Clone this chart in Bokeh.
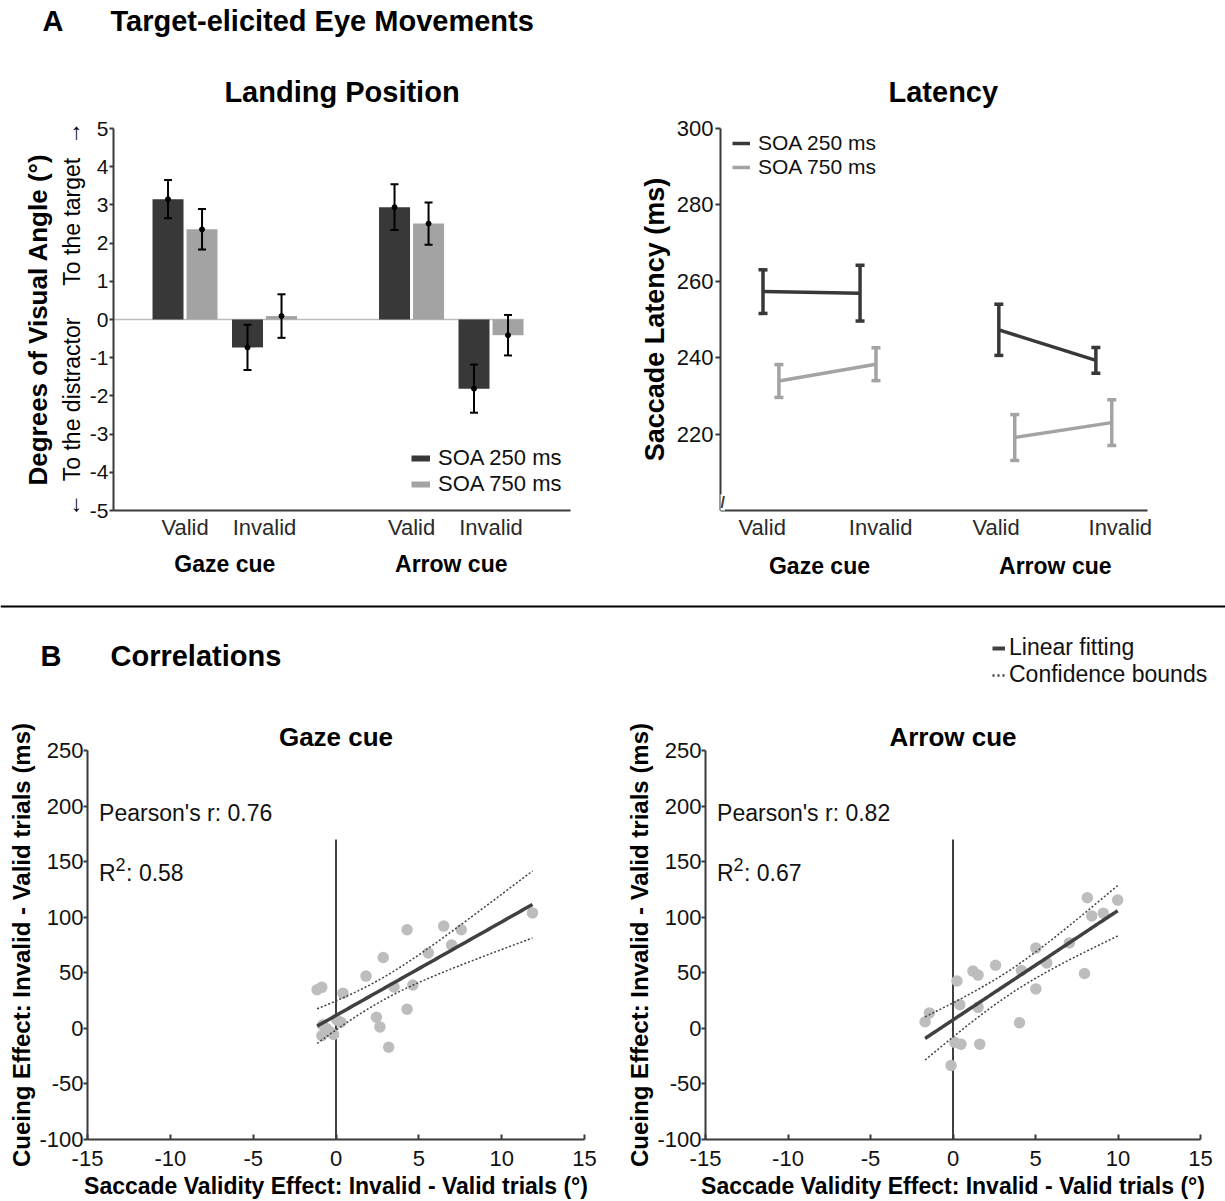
import numpy as np
from bokeh.plotting import figure
from bokeh.models import (Range1d, FixedTicker, LinearAxis, Legend, LegendItem, Whisker,
                          TeeHead, ColumnDataSource, Label, Span)
from bokeh.layouts import column, row
from bokeh.embed import file_html
from bokeh.resources import INLINE

# ---------------- data ----------------
cues = ["Gaze cue", "Arrow cue"]
validity = ["Valid", "Invalid", "Valid", "Invalid"]
soa_labels = ["SOA 250 ms", "SOA 750 ms"]

# Landing position (deg), order: gaze valid, gaze invalid, arrow valid, arrow invalid
land_250 = [3.15, -0.73, 2.94, -1.81]
land_250_err = [0.50, 0.59, 0.60, 0.63]
land_750 = [2.36, 0.09, 2.51, -0.41]
land_750_err = [0.53, 0.57, 0.55, 0.53]

# Saccade latency (ms)
lat_250 = [257.3, 256.9, 247.3, 239.3]
lat_250_err = [5.7, 7.3, 6.7, 3.4]
lat_750 = [233.9, 238.3, 219.1, 223.0]
lat_750_err = [4.3, 4.3, 6.0, 6.0]

# Correlations
gaze_x = [-1.14, -0.86, 0.42, 1.81, 2.85, 3.50, 4.29, 4.64, 5.57, 6.50, 6.98, 7.56, 11.86,
          2.44, 2.65, 3.18, 4.29, -0.80, -0.60, -0.85, -0.35, -0.15, 0.05, 0.30]
gaze_y = [34.8, 36.9, 31.5, 47.0, 63.7, 37.2, 88.7, 39.0, 67.9, 92.0, 75.0, 88.7, 103.9,
          10.0, 1.3, -17.0, 17.2, 3.0, 0.0, -6.5, -3.0, -5.5, 7.5, 5.5]
arrow_x = [-1.69, -1.43, 0.24, 0.41, 1.21, 1.52, 1.52, 2.58, 4.15, 4.03, 5.02, 5.02, 5.68,
           7.05, 7.97, 8.14, 8.41, 9.11, 9.98, 0.12, 0.48, 1.62, -0.12]
arrow_y = [5.9, 13.9, 42.6, 21.3, 51.5, 47.9, 18.9, 56.8, 52.1, 5.0, 72.2, 35.5, 58.9,
           76.9, 49.4, 117.5, 101.2, 103.6, 115.4, -12.7, -14.2, -14.2, -33.4]
gaze_stats = ["Pearson's r: 0.76", ": 0.58"]
arrow_stats = ["Pearson's r: 0.82", ": 0.67"]
T_CRIT = {21: 2.080, 22: 2.074}

# ---------------- style ----------------
FONT = "Liberation Sans"
DARK = "#383838"
LIGHT = "#a3a3a3"
AXIS = "#3a3a3a"
DOT = "#bdbdbd"
NBSP = "\u00a0"


def base_fig(**kw):
    p = figure(output_backend="svg", toolbar_location=None, **kw)
    p.grid.visible = False
    p.outline_line_color = None
    return p


def plain_labels(ticks):
    return {t: str(t) for t in ticks}


def style_axis(ax, size="22px"):
    ax.axis_line_color = AXIS
    ax.axis_line_width = 2
    ax.major_tick_line_color = AXIS
    ax.major_tick_line_width = 2
    ax.minor_tick_line_color = None
    ax.major_label_text_font = FONT
    ax.major_label_text_font_size = size
    ax.major_label_text_color = "#111111"
    ax.axis_label_text_font = FONT
    ax.axis_label_text_color = "#000000"


def title_style(p, size, standoff, align="center", offset=0):
    p.title.align = align
    p.title.text_font = FONT
    p.title.text_font_size = size
    p.title.text_font_style = "bold"
    p.title.text_color = "#000000"
    p.title.standoff = standoff
    p.title.offset = offset


def group_axis(ticks, labels, standoff):
    ax = LinearAxis(ticker=FixedTicker(ticks=ticks),
                    major_label_overrides={t: l for t, l in zip(ticks, labels)})
    ax.axis_line_color = None
    ax.major_tick_line_color = None
    ax.major_tick_out = 0
    ax.major_tick_in = 0
    ax.minor_tick_line_color = None
    ax.major_label_text_font = FONT
    ax.major_label_text_font_size = "23px"
    ax.major_label_text_font_style = "bold"
    ax.major_label_text_color = "#000000"
    ax.major_label_standoff = standoff
    return ax


def whisker(p, xs, vals, errs, color, width, head):
    src = ColumnDataSource(dict(x=xs, upper=[v + e for v, e in zip(vals, errs)],
                                lower=[v - e for v, e in zip(vals, errs)]))
    w = Whisker(source=src, base="x", upper="upper", lower="lower", dimension="height",
                line_color=color, line_width=width, level="overlay",
                upper_head=TeeHead(size=head, line_color=color, line_width=width),
                lower_head=TeeHead(size=head, line_color=color, line_width=width))
    p.add_layout(w)


def header_label(p, x, y, text):
    p.add_layout(Label(x=x, y=y, text=text, text_font=FONT, text_font_size="29px",
                       text_font_style="bold", text_baseline="middle", text_color="#000000"))


def make_legend(items, location, gw, gh, standoff, size):
    return Legend(items=[LegendItem(label=l, renderers=[r]) for l, r in items],
                  location=location, glyph_width=gw, glyph_height=gh, label_height=gh,
                  label_standoff=standoff, padding=0, margin=0, spacing=0,
                  border_line_color=None, background_fill_alpha=0,
                  label_text_font=FONT, label_text_font_size=size,
                  label_text_color="#111111")


# ---------------- header A ----------------
hA = base_fig(width=1225, height=50, x_range=Range1d(0, 1225), y_range=Range1d(0, 50),
              x_axis_type=None, y_axis_type=None, min_border=0)
header_label(hA, 42, 30, "A")
header_label(hA, 110, 30, "Target-elicited Eye Movements")

# ---------------- Landing position ----------------
BAR_CENTER = [0.9, 1.9, 3.75, 4.75]
BAR_DODGE = 0.214
BAR_W = 0.39
x250 = [c - BAR_DODGE for c in BAR_CENTER]
x750 = [c + BAR_DODGE for c in BAR_CENTER]

p1 = base_fig(width=610, height=540, x_range=Range1d(0, 5.75), y_range=Range1d(-5, 5),
              min_border_left=113, min_border_right=40, min_border_top=74,
              min_border_bottom=79, title="Landing Position")
title_style(p1, "29px", 41)
p1.segment(x0=[p1.x_range.start], y0=[0], x1=[x750[-1] + BAR_W / 2], y1=[0],
           line_color="#bcbcbc", line_width=1.5)
p1.vbar(x=x250, top=land_250, bottom=0, width=BAR_W, fill_color=DARK, line_color=None)
p1.vbar(x=x750, top=land_750, bottom=0, width=BAR_W, fill_color=LIGHT, line_color=None)
whisker(p1, x250, land_250, land_250_err, "#000000", 2, 8)
whisker(p1, x750, land_750, land_750_err, "#000000", 2, 8)
p1.scatter(x=x250 + x750, y=land_250 + land_750, size=5, color="#000000")

xa = p1.xaxis[0]
style_axis(xa)
xa.ticker = FixedTicker(ticks=BAR_CENTER)
xa.major_label_overrides = {t: l for t, l in zip(BAR_CENTER, validity)}
xa.major_tick_line_color = None
xa.major_tick_out = 0
xa.major_tick_in = 0
xa.major_label_standoff = 4
xa.major_label_text_color = "#2a2a2a"
p1.add_layout(group_axis([(BAR_CENTER[0] + BAR_CENTER[1]) / 2,
                          (BAR_CENTER[2] + BAR_CENTER[3]) / 2], cues, 8), "below")

ya = p1.yaxis[0]
style_axis(ya, "21px")
bar_yticks = list(range(-5, 6))
ya.ticker = FixedTicker(ticks=bar_yticks)
ya.major_label_overrides = plain_labels(bar_yticks)
ya.major_tick_out = 4
ya.major_tick_in = 0
ya.major_label_standoff = 1
ya.axis_label = ("\u2190" + NBSP * 2 + "To the distractor" + NBSP * 5 + "To the target"
                 + NBSP * 2 + "\u2192")
ya.axis_label_text_font_style = "normal"
ya.axis_label_text_font_size = "23px"
ya.axis_label_standoff = 2
outer = LinearAxis(ticker=FixedTicker(ticks=[]), axis_label="Degrees of Visual Angle (\u00b0)")
outer.axis_line_color = None
outer.major_tick_line_color = None
outer.major_tick_out = 0
outer.minor_tick_line_color = None
outer.axis_label_text_font = FONT
outer.axis_label_text_font_size = "26px"
outer.axis_label_text_font_style = "bold"
outer.axis_label_text_color = "#000000"
outer.axis_label_standoff = 3
p1.add_layout(outer, "left")

pr1 = p1.line(x=np.array([np.nan]), y=np.array([np.nan]), line_color=DARK, line_width=6)
pr2 = p1.line(x=np.array([np.nan]), y=np.array([np.nan]), line_color=LIGHT, line_width=6)
p1.add_layout(make_legend(list(zip(soa_labels, [pr1, pr2])), (298, 13), 19, 24, 8, "22px"))

# ---------------- Latency ----------------
LAT_CENTER = [0.52, 1.52, 2.95, 3.95]
LAT_DODGE = 0.082
LAT_TICKS = [0.43, 1.65, 2.84, 4.12]
lx250 = [c - LAT_DODGE for c in LAT_CENTER]
lx750 = [c + LAT_DODGE for c in LAT_CENTER]

p2 = base_fig(width=615, height=540, x_range=Range1d(0, 4.40), y_range=Range1d(200, 300),
              min_border_left=110, min_border_right=78, min_border_top=78,
              min_border_bottom=80, title="Latency")
title_style(p2, "29px", 41, align="left", offset=168)
r250 = p2.multi_line(xs=[lx250[0:2], lx250[2:4]], ys=[lat_250[0:2], lat_250[2:4]],
                     line_color=DARK, line_width=3.5)
r750 = p2.multi_line(xs=[lx750[0:2], lx750[2:4]], ys=[lat_750[0:2], lat_750[2:4]],
                     line_color=LIGHT, line_width=3.5)
whisker(p2, lx250, lat_250, lat_250_err, DARK, 3.5, 9)
whisker(p2, lx750, lat_750, lat_750_err, LIGHT, 3.5, 9)

xa2 = p2.xaxis[0]
style_axis(xa2)
xa2.ticker = FixedTicker(ticks=LAT_TICKS)
xa2.major_label_overrides = {t: l for t, l in zip(LAT_TICKS, validity)}
xa2.major_tick_line_color = None
xa2.major_tick_out = 0
xa2.major_tick_in = 0
xa2.major_label_standoff = 4
xa2.major_label_text_color = "#2a2a2a"
p2.add_layout(group_axis([(LAT_CENTER[0] + LAT_CENTER[1]) / 2,
                          (LAT_CENTER[2] + LAT_CENTER[3]) / 2], cues, 10), "below")
ya2 = p2.yaxis[0]
style_axis(ya2, "22px")
ya2.ticker = FixedTicker(ticks=[220, 240, 260, 280, 300])
ya2.major_tick_out = 5
ya2.major_tick_in = 0
ya2.major_label_standoff = 2
ya2.axis_label = "Saccade Latency (ms)"
ya2.axis_label_text_font_style = "bold"
ya2.axis_label_text_font_size = "27px"
ya2.axis_label_standoff = 4
p2.add_layout(Label(x=0, y=202, text="//", text_font=FONT, text_font_size="16px",
                    text_font_style="bold", text_align="center", text_baseline="middle",
                    text_color=AXIS, background_fill_color="white"))
p2.add_layout(make_legend(list(zip(soa_labels, [r250, r750])), (12, 331), 18, 24, 8, "21px"))

# ---------------- header B ----------------
hB = base_fig(width=1225, height=110, x_range=Range1d(0, 1225), y_range=Range1d(0, 110),
              x_axis_type=None, y_axis_type=None, min_border=0)
hB.add_layout(Span(location=94, dimension="width", line_color="#000000", line_width=2))
header_label(hB, 40, 45, "B")
header_label(hB, 110, 45, "Correlations")
lf = hB.line(x=np.array([np.nan]), y=np.array([np.nan]), line_color="#404040", line_width=4)
cb = hB.line(x=np.array([np.nan]), y=np.array([np.nan]), line_color="#404040",
             line_width=2.5, line_dash="2 3")
hB.add_layout(make_legend([("Linear fitting", lf), ("Confidence bounds", cb)],
                          (992, 12), 13, 26, 4, "23px"))


# ---------------- scatter ----------------
def fit_band(x, y):
    x = np.asarray(x, dtype=float)
    y = np.asarray(y, dtype=float)
    n = len(x)
    slope, intercept = np.polyfit(x, y, 1)
    xs = np.linspace(x.min(), x.max(), 80)
    fit = intercept + slope * xs
    resid = y - (intercept + slope * x)
    s = np.sqrt(np.sum(resid ** 2) / (n - 2))
    sxx = np.sum((x - x.mean()) ** 2)
    half = T_CRIT[n - 2] * s * np.sqrt(1.0 / n + (xs - x.mean()) ** 2 / sxx)
    return xs, fit, fit - half, fit + half


def scatter_fig(title, xv, yv, stats, width, mbl, mbr):
    p = base_fig(width=width, height=501, x_range=Range1d(-15, 15), y_range=Range1d(-100, 250),
                 min_border_left=mbl, min_border_right=mbr, min_border_top=50,
                 min_border_bottom=62, title=title)
    title_style(p, "26px", -3)
    p.line(x=[0, 0], y=[-100, 170], line_color="#000000", line_width=1.5)
    p.scatter(x=xv, y=yv, size=11.5, fill_color=DOT, line_color=None)
    xs, fit, lo, hi = fit_band(xv, yv)
    p.line(x=xs, y=fit, line_color="#404040", line_width=3.5)
    p.line(x=xs, y=lo, line_color="#404040", line_width=1.5, line_dash="2 2")
    p.line(x=xs, y=hi, line_color="#404040", line_width=1.5, line_dash="2 2")

    xa = p.xaxis[0]
    style_axis(xa)
    xticks = list(range(-15, 16, 5))
    xa.ticker = FixedTicker(ticks=xticks)
    xa.major_label_overrides = plain_labels(xticks)
    xa.major_tick_in = 5
    xa.major_tick_out = 0
    xa.major_label_standoff = 11
    xa.axis_label = "Saccade Validity Effect: Invalid - Valid trials (\u00b0)"
    xa.axis_label_text_font_style = "bold"
    xa.axis_label_text_font_size = "23px"
    xa.axis_label_standoff = 4
    ya = p.yaxis[0]
    style_axis(ya)
    yticks = list(range(-100, 251, 50))
    ya.ticker = FixedTicker(ticks=yticks)
    ya.major_label_overrides = plain_labels(yticks)
    ya.major_tick_out = 4
    ya.major_tick_in = 0
    ya.major_label_standoff = 0
    ya.axis_label = "Cueing Effect: Invalid - Valid trials (ms)"
    ya.axis_label_text_font_style = "bold"
    ya.axis_label_text_font_size = "24px"
    ya.axis_label_standoff = 1

    p.add_layout(Label(x=-14.3, y=194, text=stats[0], text_font=FONT, text_font_size="23px",
                       text_baseline="middle", text_color="#111111"))
    p.add_layout(Label(x=-14.3, y=140, text="R", text_font=FONT, text_font_size="23px",
                       text_baseline="middle", text_color="#111111"))
    p.add_layout(Label(x=-14.3, y=140, x_offset=16.5, y_offset=8, text="2", text_font=FONT,
                       text_font_size="18px", text_baseline="middle", text_color="#111111"))
    p.add_layout(Label(x=-14.3, y=140, x_offset=27, text=stats[1], text_font=FONT,
                       text_font_size="23px", text_baseline="middle", text_color="#111111"))
    return p


p3 = scatter_fig("Gaze cue", gaze_x, gaze_y, gaze_stats, 615, 87, 31)
p4 = scatter_fig("Arrow cue", arrow_x, arrow_y, arrow_stats, 610, 90, 25)

layout = column(hA, row(p1, p2), hB, row(p3, p4))
open("out.html", "w").write(file_html(layout, INLINE))
